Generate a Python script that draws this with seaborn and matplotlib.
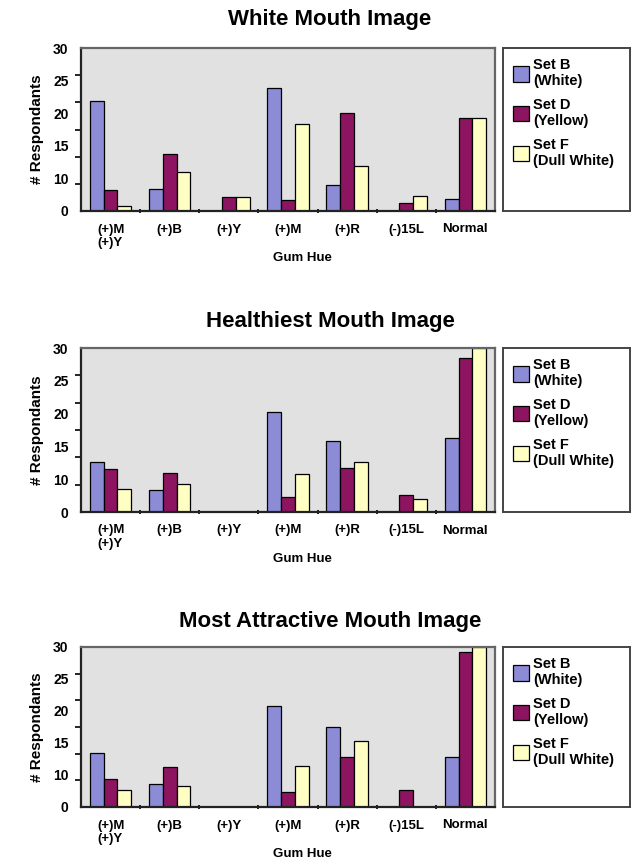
import matplotlib
matplotlib.use("Agg")
import matplotlib.pyplot as plt
import seaborn as sns
import pandas as pd
from matplotlib.patches import Patch

# Gum hue categories (codes keep the two "(+)M" groups separate)
category_codes = ["MY", "B", "Y", "M", "R", "15L", "N"]
category_labels = ["(+)M\n(+)Y", "(+)B", "(+)Y", "(+)M", "(+)R", "(-)15L", "Normal"]

series_names = ["Set B\n(White)", "Set D\n(Yellow)", "Set F\n(Dull White)"]
series_colors = ["#8b8bd6", "#8c1460", "#ffffc4"]

titles = ["White Mouth Image", "Healthiest Mouth Image", "Most Attractive Mouth Image"]

# respondents per panel, per series
white_set_b = [20.3, 4.0, 0, 22.7, 4.8, 0, 2.2]
white_set_d = [3.9, 10.4, 2.5, 2.0, 18.0, 1.4, 17.2]
white_set_f = [1.0, 7.1, 2.5, 16.1, 8.3, 2.8, 17.2]

healthy_set_b = [9.2, 4.1, 0, 18.3, 13.0, 0, 13.5]
healthy_set_d = [7.8, 7.2, 0, 2.8, 8.0, 3.2, 28.1]
healthy_set_f = [4.2, 5.2, 0, 7.0, 9.1, 2.3, 30.0]

attract_set_b = [10.2, 4.3, 0, 19.0, 15.0, 0, 9.4]
attract_set_d = [5.2, 7.5, 0, 2.8, 9.3, 3.1, 29.1]
attract_set_f = [3.1, 3.9, 0, 7.7, 12.3, 0, 30.0]

panels = [
    (white_set_b, white_set_d, white_set_f),
    (healthy_set_b, healthy_set_d, healthy_set_f),
    (attract_set_b, attract_set_d, attract_set_f),
]

# label text shown on the y axis (as printed in the source figure)
ytick_text = ["0", "10", "15", "20", "25", "30"]
ytick_pos = [0, 6, 12, 18, 24, 30]

plt.rcParams["font.family"] = ["Liberation Sans", "DejaVu Sans"]
plt.rcParams["font.weight"] = "bold"

W, H = 635, 859
fig = plt.figure(figsize=(W / 100, H / 100), dpi=100)

# axes boxes in pixels: (left, top, right, bottom), title centre y
boxes = [(81, 48, 495, 211), (81, 348, 495, 512), (81, 647, 495, 807)]
title_y = [20, 321, 621]
legend_x = (503, 630)

for (b, d, f), title, (l, t, r, btm), ty in zip(panels, titles, boxes, title_y):
    rows = []
    for name, vals in zip(series_names, (b, d, f)):
        for code, v in zip(category_codes, vals):
            rows.append({"cat": code, "series": name, "value": v})
    df = pd.DataFrame(rows)

    ax = fig.add_axes([l / W, 1 - btm / H, (r - l) / W, (btm - t) / H])
    ax.set_facecolor("#e1e1e1")
    sns.barplot(data=df, x="cat", y="value", hue="series", order=category_codes,
                hue_order=series_names, palette=series_colors, saturation=1,
                width=0.7, edgecolor="black", linewidth=0.9, ax=ax, legend=False)

    ax.set_xlim(-0.5, 6.5)
    ax.set_ylim(0, 30)
    ax.set_xticks(range(7))
    ax.set_xticklabels(category_labels, fontsize=9.5, fontweight="bold", linespacing=1.2)
    for lbl in ax.get_xticklabels():
        lbl.set_multialignment("left")
    ax.set_xticks([i + 0.5 for i in range(6)], minor=True)
    ax.tick_params(axis="x", which="major", length=0, pad=9)
    ax.tick_params(axis="x", which="minor", length=3, direction="inout", width=1.2)

    ax.set_yticks(ytick_pos)
    ax.set_yticklabels(ytick_text, fontsize=10, fontweight="bold")
    ax.set_yticks(list(range(0, 31, 5)), minor=True)
    ax.tick_params(axis="y", which="major", length=0, pad=9)
    ax.tick_params(axis="y", which="minor", length=4, direction="out", width=1.2)

    # "Gum Hue" sits ~47 px below the axis, a bit right of centre
    ax.set_xlabel("Gum Hue", fontsize=9.5, fontweight="bold")
    ax.xaxis.set_label_coords((302 - l) / (r - l), -47 / (btm - t))
    ax.xaxis.label.set_verticalalignment("center")
    ax.set_ylabel("# Respondants", fontsize=11, fontweight="bold")
    ax.yaxis.set_label_coords(-(l - 37) / (r - l), 0.5)
    ax.yaxis.label.set_verticalalignment("center")
    fig.text(330 / W, 1 - ty / H, title, fontsize=16, fontweight="bold",
             ha="center", va="center")

    for side in ["left", "bottom"]:
        ax.spines[side].set_color("#222222")
        ax.spines[side].set_linewidth(1.6)
    for side in ["top", "right"]:
        ax.spines[side].set_color("#666666")
        ax.spines[side].set_linewidth(1.6)

    # legend box spanning the plot height
    lax = fig.add_axes([legend_x[0] / W, 1 - btm / H, (legend_x[1] - legend_x[0]) / W, (btm - t) / H])
    lax.set_xticks([])
    lax.set_yticks([])
    lax.set_facecolor("white")
    for s in lax.spines.values():
        s.set_color("#444444")
        s.set_linewidth(1.4)
    handles = [Patch(facecolor=c, edgecolor="black", linewidth=0.9) for c in series_colors]
    lax.legend(handles, series_names, loc="upper left", frameon=False,
               prop={"size": 10.5, "weight": "bold"}, handlelength=1.1, handleheight=1.25,
               handletextpad=0.25, labelspacing=0.65, borderpad=0.7, borderaxespad=0.0)

fig.savefig("out.png", dpi=100)
